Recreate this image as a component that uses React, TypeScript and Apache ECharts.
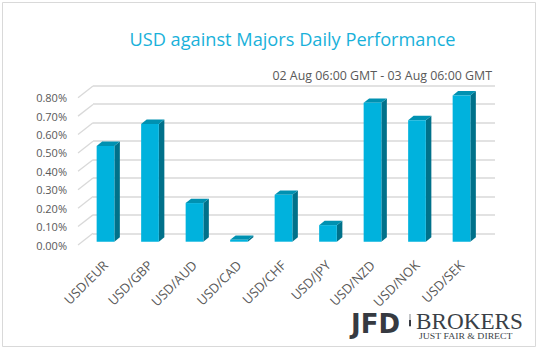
import React, { useEffect, useRef } from "react";
import * as echarts from "echarts";

const categories = ["USD/EUR", "USD/GBP", "USD/AUD", "USD/CAD", "USD/CHF", "USD/JPY", "USD/NZD", "USD/NOK", "USD/SEK"];
const performance = [0.52, 0.64, 0.21, 0.01, 0.255, 0.09, 0.755, 0.66, 0.795];
const yTicks = [0, 0.1, 0.2, 0.3, 0.4, 0.5, 0.6, 0.7, 0.8];
const titleText = "USD against Majors Daily Performance";
const subtitleText = "02 Aug 06:00 GMT - 03 Aug 06:00 GMT";

const FONT = "'Open Sans', 'Noto Sans', sans-serif";
const FRONT = "#00B2DD";
const SIDE = "#00718A";
const TOP = "#0091B1";
const GRID = "#d9d9d9";
const TXT = "#595959";

export default function App() {
  const ref = useRef<HTMLDivElement>(null);
  useEffect(() => {
    if (!ref.current) return;
    const chart = echarts.init(ref.current, null, { renderer: "svg" });
    const DX = 5.5, DY = 4.4, BW = 17.7;
    const option: any = {
      animation: false,
      backgroundColor: "#ffffff",
      grid: [
        { left: 83.25, top: 94.5, width: 400.5, height: 147.2 },
        { left: 93, top: 85.7, width: 402, height: 147.6 },
        { left: 78, top: 97.7, width: 15, height: 147.3 },
      ],
      xAxis: [
        {
          type: "category", gridIndex: 0, data: categories,
          axisLine: { show: false }, axisTick: { show: false },
          axisLabel: { rotate: 45, margin: 21, fontSize: 13, color: TXT, fontFamily: FONT, interval: 0 },
        },
        { type: "category", gridIndex: 1, data: categories, show: false },
        { type: "value", gridIndex: 2, min: 0, max: 1, show: false },
      ],
      yAxis: [
        { type: "value", gridIndex: 0, min: 0, max: 0.8, interval: 0.1, show: false },
        {
          type: "value", gridIndex: 1, min: 0, max: 0.8, interval: 0.1,
          axisLabel: { show: false }, axisLine: { show: false }, axisTick: { show: false },
          splitLine: { show: true, lineStyle: { color: GRID, width: 1.5 } },
        },
        {
          type: "value", gridIndex: 2, min: 0, max: 0.8, interval: 0.1,
          axisLine: { show: false }, axisTick: { show: false }, splitLine: { show: false },
          axisLabel: {
            margin: 11, fontSize: 11, color: TXT, fontFamily: FONT,
            formatter: (v: number) => v.toFixed(2) + "%",
          },
        },
      ],
      series: [
        {
          type: "custom", xAxisIndex: 2, yAxisIndex: 2, silent: true,
          data: yTicks.map((v) => [0, v]),
          renderItem: (params: any, api: any) => {
            const p = api.coord([0, api.value(1)]);
            return {
              type: "line",
              shape: { x1: p[0], y1: p[1], x2: p[0] + 15, y2: p[1] - 11.7 },
              style: { stroke: GRID, lineWidth: 1.3 },
            };
          },
        },
        {
          type: "custom", xAxisIndex: 0, yAxisIndex: 0, silent: true,
          data: performance.map((v, i) => [i, v]),
          renderItem: (params: any, api: any) => {
            const top = api.coord([api.value(0), api.value(1)]);
            const bot = api.coord([api.value(0), 0]);
            const l = top[0] - BW / 2, r = top[0] + BW / 2;
            const yt = top[1], yb = bot[1];
            return {
              type: "group",
              children: [
                {
                  type: "polygon",
                  shape: { points: [[r, yt], [r + DX, yt - DY], [r + DX, yb - DY], [r, yb]] },
                  style: { fill: SIDE },
                },
                {
                  type: "polygon",
                  shape: { points: [[l, yt], [l + DX, yt - DY], [r + DX, yt - DY], [r, yt]] },
                  style: { fill: TOP },
                },
                {
                  type: "rect",
                  shape: { x: l, y: yt, width: BW, height: yb - yt },
                  style: { fill: FRONT },
                },
              ],
            };
          },
        },
      ],
      graphic: [
        {
          type: "rect", silent: true,
          shape: { x: 2.5, y: 2.5, width: 533, height: 344 },
          style: { fill: "none", stroke: GRID, lineWidth: 1 },
        },
        {
          type: "text", x: 292.5, y: 39,
          style: { text: titleText, align: "center", verticalAlign: "middle", fontSize: 18.2, fill: "#19B1DA", fontFamily: FONT },
        },
        {
          type: "text", x: 492, y: 75,
          style: { text: subtitleText, align: "right", verticalAlign: "middle", fontSize: 12.4, fill: TXT, fontFamily: FONT },
        },
        {
          type: "text", x: 351, y: 324,
          style: { text: "JFD", align: "left", verticalAlign: "middle", fontSize: 26, fontWeight: "bold", fill: "#363a41", fontFamily: "'DejaVu Sans', sans-serif" },
        },
        {
          type: "rect", shape: { x: 409.5, y: 314, width: 1, height: 13 }, style: { fill: "#8a8d92" },
        },
        {
          type: "rect", shape: { x: 409, y: 320, width: 2, height: 6 }, style: { fill: "#363a41" },
        },
        {
          type: "text", x: 416, y: 321,
          style: { text: "BROKERS", align: "left", verticalAlign: "middle", fontSize: 23.2, fill: "#3a3f47", fontFamily: "'Liberation Serif', serif" },
        },
        {
          type: "text", x: 419, y: 336, scaleX: 1.3,
          style: { text: "JUST FAIR & DIRECT", align: "left", verticalAlign: "middle", fontSize: 7.5, fill: "#3a3f47", fontFamily: "'Liberation Serif', serif" },
        },
      ],
    };
    chart.setOption(option);
    return () => chart.dispose();
  }, []);
  return (
    <div
      ref={ref}
      style={{ position: "fixed", left: 0, top: 0, width: 538, height: 351, background: "#fff" }}
    />
  );
}
